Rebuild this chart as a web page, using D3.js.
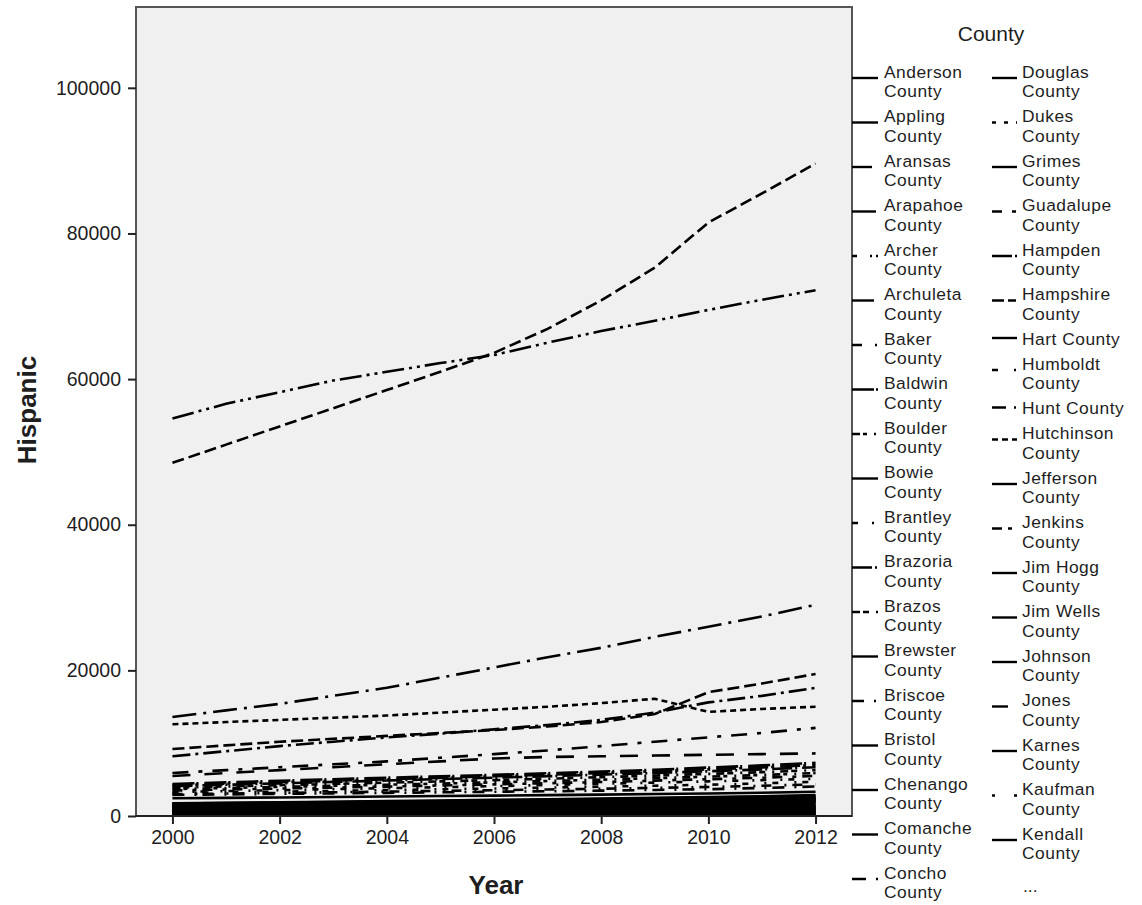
<!DOCTYPE html>
<html>
<head>
<meta charset="utf-8">
<script src="https://cdn.jsdelivr.net/npm/d3@7"></script>
<style>
body { margin: 0; background: #fff; }
text { font-family: "Liberation Sans", Arial, sans-serif; fill: #1e1e1e; }
</style>
</head>
<body>
<div id="chart-area"></div>
<script>
// Data
const years = [2000, 2001, 2002, 2003, 2004, 2005, 2006, 2007, 2008, 2009, 2010, 2011, 2012]
const xTicks = [2000, 2002, 2004, 2006, 2008, 2010, 2012]
const yTicks = [0, 20000, 40000, 60000, 80000, 100000]

// counties shown in the legend (the rest are behind the "...")
const legendCounties = [
	"Anderson County", "Appling County", "Aransas County", "Arapahoe County", "Archer County",
	"Archuleta County", "Baker County", "Baldwin County", "Boulder County", "Bowie County",
	"Brantley County", "Brazoria County", "Brazos County", "Brewster County", "Briscoe County",
	"Bristol County", "Chenango County", "Comanche County", "Concho County",
	"Douglas County", "Dukes County", "Grimes County", "Guadalupe County", "Hampden County",
	"Hampshire County", "Hart County", "Humboldt County", "Hunt County", "Hutchinson County",
	"Jefferson County", "Jenkins County", "Jim Hogg County", "Jim Wells County", "Johnson County",
	"Jones County", "Karnes County", "Kaufman County", "Kendall County"
]

// Hispanic population by year, one row per county (legend order first, then unlisted counties)
const hispanic = [
	[1560, 1630, 1690, 1770, 1840, 1900, 1990, 2060, 2150, 2250, 2330, 2420, 2540],
	[380, 395, 415, 430, 455, 470, 490, 505, 530, 555, 580, 600, 625],
	[1440, 1500, 1570, 1620, 1690, 1760, 1820, 1890, 1950, 2040, 2120, 2190, 2290],
	[1150, 1200, 1240, 1300, 1350, 1410, 1460, 1530, 1600, 1660, 1720, 1800, 1880],
	[220, 228, 240, 245, 254, 265, 272, 280, 292, 305, 314, 325, 338],
	[1020, 1060, 1110, 1150, 1190, 1240, 1280, 1340, 1400, 1450, 1520, 1580, 1650],
	[3000, 3080, 3170, 3260, 3350, 3450, 3540, 3640, 3750, 3870, 3980, 4150, 4350],
	[4400, 4620, 4840, 5050, 5260, 5450, 5650, 5870, 6100, 6350, 6650, 6950, 7300],
	[3700, 3850, 3990, 4150, 4300, 4450, 4620, 4800, 4990, 5190, 5400, 5630, 5900],
	[1620, 1690, 1770, 1830, 1900, 1990, 2060, 2140, 2220, 2320, 2410, 2510, 2610],
	[3300, 3420, 3550, 3690, 3820, 3950, 4100, 4260, 4420, 4580, 4760, 4920, 5100],
	[4100, 4290, 4480, 4680, 4870, 5070, 5260, 5460, 5680, 5900, 6140, 6400, 6700],
	[3900, 4060, 4230, 4400, 4580, 4750, 4930, 5120, 5330, 5550, 5780, 6020, 6300],
	[860, 895, 935, 970, 1010, 1040, 1090, 1130, 1180, 1225, 1280, 1330, 1390],
	[2900, 2960, 3040, 3110, 3180, 3250, 3330, 3400, 3480, 3580, 3680, 3850, 4050],
	[1300, 1350, 1400, 1460, 1520, 1590, 1640, 1710, 1780, 1850, 1920, 2010, 2090],
	[150, 155, 160, 168, 174, 182, 186, 193, 200, 209, 214, 222, 230],
	[560, 580, 605, 628, 655, 685, 710, 740, 768, 800, 835, 870, 905],
	[470, 490, 508, 530, 552, 575, 598, 625, 652, 680, 708, 740, 770],
	[1500, 1560, 1620, 1690, 1750, 1820, 1890, 1970, 2040, 2120, 2200, 2290, 2380],
	[60, 62, 65, 68, 71, 74, 77, 81, 84, 88, 92, 96, 100],
	[1220, 1270, 1320, 1380, 1440, 1490, 1550, 1610, 1680, 1740, 1820, 1890, 1970],
	[3500, 3630, 3770, 3900, 4040, 4190, 4340, 4500, 4670, 4860, 5050, 5260, 5500],
	[4250, 4440, 4640, 4840, 5040, 5240, 5450, 5670, 5900, 6140, 6400, 6680, 7000],
	[1660, 1730, 1800, 1880, 1950, 2030, 2110, 2200, 2280, 2380, 2480, 2580, 2690],
	[2430, 2490, 2550, 2610, 2670, 2740, 2800, 2870, 2940, 3020, 3100, 3200, 3340],
	[3150, 3250, 3350, 3450, 3560, 3670, 3780, 3900, 4020, 4160, 4300, 4480, 4700],
	[960, 1000, 1040, 1085, 1130, 1170, 1220, 1270, 1320, 1375, 1430, 1490, 1550],
	[12600, 12900, 13200, 13500, 13800, 14200, 14600, 15000, 15500, 16100, 14300, 14700, 15000],
	[700, 730, 760, 790, 825, 855, 890, 920, 960, 1000, 1040, 1085, 1130],
	[1380, 1430, 1490, 1550, 1610, 1670, 1740, 1800, 1880, 1950, 2030, 2110, 2200],
	[1100, 1140, 1190, 1240, 1290, 1340, 1390, 1450, 1500, 1570, 1630, 1700, 1770],
	[620, 645, 670, 700, 725, 755, 785, 815, 850, 885, 920, 955, 995],
	[300, 312, 325, 340, 352, 366, 380, 395, 410, 426, 443, 460, 478],
	[790, 820, 850, 885, 920, 955, 990, 1030, 1070, 1110, 1155, 1200, 1250],
	[1700, 1770, 1840, 1920, 1990, 2070, 2150, 2240, 2320, 2420, 2520, 2620, 2730],
	[100, 104, 108, 112, 117, 121, 126, 131, 136, 141, 147, 153, 159],
	[1740, 1810, 1890, 1960, 2040, 2120, 2210, 2300, 2390, 2490, 2590, 2710, 2860],
	// unlisted counties
	[48500, 51000, 53500, 56000, 58500, 61000, 63600, 66900, 70800, 75300, 81500, 85500, 89600],
	[54600, 56600, 58200, 59800, 61000, 62200, 63300, 65000, 66600, 68000, 69500, 70900, 72200],
	[13600, 14500, 15400, 16500, 17600, 19000, 20400, 21800, 23100, 24600, 26000, 27400, 29000],
	[9200, 9700, 10200, 10600, 11000, 11400, 11800, 12300, 12900, 14000, 17000, 18200, 19500],
	[8200, 8900, 9600, 10200, 10800, 11300, 11900, 12500, 13200, 14200, 15600, 16500, 17600],
	[5900, 6300, 6700, 7100, 7500, 8000, 8500, 9000, 9600, 10200, 10800, 11400, 12100],
	[5500, 5900, 6300, 6700, 7100, 7500, 7900, 8100, 8200, 8300, 8400, 8500, 8600],
	[40, 42, 45, 47, 50, 52, 55, 57, 60, 62, 65, 67, 70],
	[180, 188, 196, 205, 214, 223, 232, 242, 252, 262, 272, 281, 290],
	[260, 272, 284, 296, 310, 322, 336, 350, 364, 378, 392, 406, 420],
	[420, 440, 460, 480, 502, 524, 546, 570, 594, 618, 642, 666, 690],
	[520, 545, 570, 596, 622, 650, 678, 706, 736, 766, 796, 828, 860],
	[660, 690, 720, 752, 784, 818, 852, 888, 924, 962, 1000, 1045, 1090],
	[900, 945, 990, 1035, 1080, 1130, 1180, 1230, 1280, 1335, 1390, 1430, 1480],
	[1250, 1310, 1360, 1420, 1480, 1540, 1600, 1660, 1730, 1800, 1880, 1960, 2050],
	[1420, 1480, 1550, 1620, 1690, 1760, 1830, 1910, 1990, 2080, 2170, 2260, 2350],
	[1060, 1110, 1160, 1210, 1260, 1310, 1370, 1430, 1490, 1550, 1620, 1690, 1760],
	[340, 355, 372, 390, 408, 426, 444, 464, 484, 504, 524, 542, 560],
	[750, 785, 820, 855, 890, 930, 970, 1010, 1050, 1095, 1140, 1190, 1240]
]

// line styles (dash pattern per county row)
const DASH = [
	"", "", "20,6", "24,5", "5,13,2,4,2,6", "22,6", "10,13,2,6", "22,2,2,6", "8,3,4,7,2,6", "",
	"6,14,2,6", "20,3,2,5", "8,3,6,7,2,6", "", "12,10,2,6", "", "", "26,6", "14,10",
	"26,4", "4,8,4,8,2,6", "28,4", "10,10,4,6", "20,3,3,6", "12,4,8,6", "", "6,16,2,6", "14,8,2,6", "6,4",
	"", "10,6,4,6", "", "", "", "16,12", "", "3,19,3,8", "",
	"12,5", "22,5,3,5,3,5", "24,7,3,7", "12,5", "18,5,3,5", "16,10,4,10", "18,14",
	"", "10,4", "", "14,6", "", "8,4", "", "20,5", "", "12,6", "", "16,4"
]

const W = 1142, H = 905
const PLOT = { LEFT: 136, RIGHT: 852, TOP: 7, BOTTOM: 816 }
const FONT = 19.5
const LEGEND_FONT = 17.4

const svg = d3.select("#chart-area").append("svg")
	.attr("width", W)
	.attr("height", H)

svg.append("rect").attr("width", W).attr("height", H).attr("fill", "#fff")

// Scales
const x = d3.scaleLinear()
	.domain([1999.32, 2012.68])
	.range([PLOT.LEFT, PLOT.RIGHT])

const y = d3.scaleLinear()
	.domain([0, 111100])
	.range([PLOT.BOTTOM, PLOT.TOP])

// Plot frame
svg.append("rect")
	.attr("x", PLOT.LEFT)
	.attr("y", PLOT.TOP)
	.attr("width", PLOT.RIGHT - PLOT.LEFT)
	.attr("height", PLOT.BOTTOM - PLOT.TOP)
	.attr("fill", "#f0f0f0")
	.attr("stroke", "#555")
	.attr("stroke-width", 2)

// Lines
const line = d3.line()
	.x((d, i) => x(years[i]))
	.y(d => y(d))

svg.append("g").selectAll("path")
	.data(hispanic)
	.enter().append("path")
	.attr("d", line)
	.attr("fill", "none")
	.attr("stroke", "#000")
	.attr("stroke-width", 2.6)
	.attr("stroke-dasharray", (d, i) => DASH[i] || null)

// bottom edge over the lines
svg.append("line")
	.attr("x1", PLOT.LEFT).attr("x2", PLOT.RIGHT)
	.attr("y1", PLOT.BOTTOM).attr("y2", PLOT.BOTTOM)
	.attr("stroke", "#222").attr("stroke-width", 2)

// X Axis
const xAxisCall = d3.axisBottom(x)
	.tickValues(xTicks)
	.tickFormat(d3.format("d"))
	.tickSize(8)
	.tickPadding(6)
const xAxis = svg.append("g")
	.attr("transform", `translate(0, ${PLOT.BOTTOM})`)
	.call(xAxisCall)
xAxis.select(".domain").remove()
xAxis.selectAll("line").attr("stroke", "#222").attr("stroke-width", 2)
xAxis.selectAll("text")
	.attr("font-size", FONT)
	.attr("font-family", "Liberation Sans, Arial, sans-serif")
	.attr("fill", "#1e1e1e")

// Y Axis
const yAxisCall = d3.axisLeft(y)
	.tickValues(yTicks)
	.tickFormat(d3.format("d"))
	.tickSize(8)
	.tickPadding(7)
const yAxis = svg.append("g")
	.attr("transform", `translate(${PLOT.LEFT}, 0)`)
	.call(yAxisCall)
yAxis.select(".domain").remove()
yAxis.selectAll("line").attr("stroke", "#222").attr("stroke-width", 2)
yAxis.selectAll("text")
	.attr("font-size", FONT)
	.attr("font-family", "Liberation Sans, Arial, sans-serif")
	.attr("fill", "#1e1e1e")

// Labels
svg.append("text")
	.attr("x", 496)
	.attr("y", 894)
	.attr("font-size", "26px")
	.attr("font-weight", "bold")
	.attr("text-anchor", "middle")
	.text("Year")

svg.append("text")
	.attr("transform", "translate(36, 410) rotate(-90)")
	.attr("font-size", "26px")
	.attr("font-weight", "bold")
	.attr("text-anchor", "middle")
	.text("Hispanic")

// Legend
const legend = svg.append("g")
legend.append("text")
	.attr("x", 991)
	.attr("y", 41)
	.attr("font-size", "21px")
	.attr("text-anchor", "middle")
	.text("County")

const LINE_H = 19.5
const columns = [
	{ from: 0, to: 19, sampleX: [PLOT.RIGHT, 878], textX: 884 },
	{ from: 19, to: 38, sampleX: [992, 1017], textX: 1022 }
]

columns.forEach(col => {
	let cy = 71
	for (let i = col.from; i < col.to; i++) {
		const name = legendCounties[i]
		const parts = name.length > 11 ? [name.replace(/ County$/, ""), "County"] : [name]
		legend.append("line")
			.attr("x1", col.sampleX[0]).attr("x2", col.sampleX[1])
			.attr("y1", cy + 7 * (parts.length - 1)).attr("y2", cy + 7 * (parts.length - 1))
			.attr("stroke", "#000")
			.attr("stroke-width", 2.4)
			.attr("stroke-dasharray", DASH[i] || null)
		parts.forEach((p, k) => {
			legend.append("text")
				.attr("x", col.textX)
				.attr("y", cy + 6.5 + k * LINE_H)
				.attr("font-size", LEGEND_FONT)
				.attr("letter-spacing", "0.5px")
				.text(p)
		})
		cy += 25 + LINE_H * (parts.length - 1)
	}
	if (col.from === 19) {
		legend.append("text")
			.attr("x", col.textX + 1)
			.attr("y", cy + 14)
			.attr("font-size", LEGEND_FONT)
			.attr("fill", "#777")
			.text("...")
	}
})
</script>
</body>
</html>
